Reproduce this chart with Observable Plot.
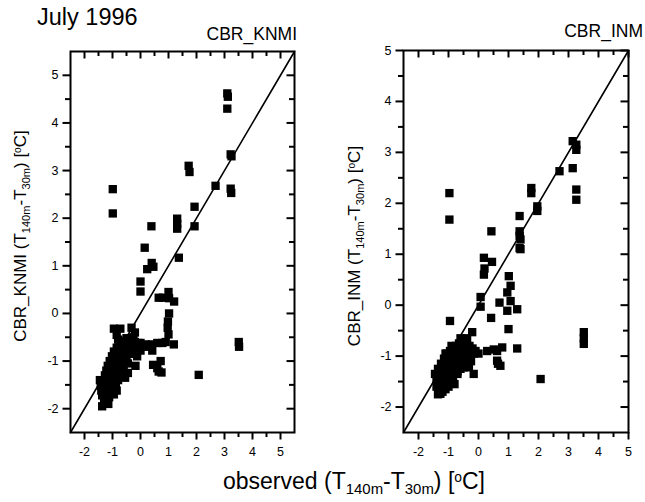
<!DOCTYPE html>
<html><head><meta charset="utf-8">
<script src="https://cdn.jsdelivr.net/npm/d3@7"></script>
<script src="https://cdn.jsdelivr.net/npm/@observablehq/plot@0.6"></script>
<style>
html,body{margin:0;padding:0;background:#fff;}
#wrap{position:relative;width:645px;height:502px;font-family:"Liberation Sans",Arial,sans-serif;color:#000;}
.t{position:absolute;line-height:1;white-space:nowrap;}
.sb{position:relative;top:0.35em;font-size:0.65em;}
.sp{position:relative;top:-0.5em;font-size:0.6em;}
.rot{transform:translate(-50%,-50%) rotate(-90deg);}
svg{position:absolute;overflow:visible;}
</style></head>
<body><div id="wrap">
<div class="t" style="left:37px;top:6px;font-size:23.5px;">July 1996</div>
<div class="t" style="right:348px;top:26px;font-size:17.5px;">CBR_KNMI</div>
<div class="t" style="right:2px;top:23px;font-size:17.5px;">CBR_INM</div>
<div class="t rot" style="left:20px;top:236px;font-size:17px;">CBR_KNMI (T<span class="sb">140m</span>-T<span class="sb">30m</span>) [<span class="sp">o</span>C]</div>
<div class="t rot" style="left:354px;top:246px;font-size:17px;">CBR_INM (T<span class="sb">140m</span>-T<span class="sb">30m</span>) [<span class="sp">o</span>C]</div>
<div class="t" style="left:354px;top:470px;font-size:23px;transform:translateX(-50%);">observed (T<span class="sb">140m</span>-T<span class="sb">30m</span>) [<span class="sp">o</span>C]</div>
</div>
<script>
// ---- data (observed vs modelled T140m - T30m, July 1996) ----
const knmiObs = [3.10,3.12,3.10,3.22,3.25,3.22,3.24,2.68,1.72,1.75,1.93,1.93,1.31,1.31,1.31,-0.99,-0.99,0.39,0.15,0.24,0.40,0.46,1.37,0.00,0.00,0.65,0.80,1.00,1.02,1.20,1.02,0.98,0.97,1.00,1.19,3.51,3.52,2.08,0.45,0.60,0.72,0.75,0.65,0.18,0.40,0.60,0.78,0.90,0.00,-0.20,0.42,-0.18,-0.95,-0.72,-0.32,-0.20,
 -1.45,-1.42,-1.40,-1.37,-1.37,-1.32,-1.30,-1.27,-1.25,-1.22,-1.20,-1.17,-1.15,-1.12,-1.10,-1.07,-1.05,-1.02,-1.00,-1.00,-0.95,-0.95,-0.92,-0.90,-0.88,-0.85,-0.85,-0.80,-0.80,-0.75,-0.75,-0.70,-0.70,-0.65,-0.65,-0.60,-0.60,-0.55,-0.50,-0.50,-0.45,-0.40,-0.35,-0.30,-0.25,-0.20,-0.12,-0.08,0.00,0.25,-0.85,-0.80,
 -1.30,-1.20,-1.10,-1.00,-0.90,-0.80,-0.70,-0.60,-0.50,-1.15,-1.25,-0.40,-0.85,-0.55,-0.45];
const knmiMod = [4.62,4.55,4.30,3.34,3.30,2.62,2.53,2.68,3.10,2.97,2.24,1.83,1.99,1.88,1.78,2.61,2.10,1.83,1.38,0.93,1.06,0.98,1.17,0.67,0.46,0.33,0.33,0.45,0.32,0.25,0.00,-0.17,-0.30,-0.44,-0.65,-0.60,-0.70,-1.29,-1.08,-1.15,-1.00,-1.24,-1.22,-0.65,-0.65,-0.62,-0.62,-0.60,-0.62,-0.60,-0.78,-1.10,-0.32,-0.32,-0.30,-0.40,
 -1.40,-1.52,-1.62,-1.72,-1.95,-1.45,-1.82,-1.30,-1.55,-1.20,-1.66,-1.10,-1.40,-1.76,-1.00,-1.28,-1.55,-0.90,-1.15,-1.45,-1.70,-0.80,-1.05,-1.30,-1.55,-0.72,-0.95,-1.20,-1.40,-0.66,-0.88,-1.10,-1.30,-0.58,-0.82,-1.00,-1.20,-0.70,-0.90,-0.52,-1.05,-0.75,-0.58,-0.85,-0.50,-0.72,-0.90,-0.62,-0.78,-0.70,-0.45,-0.55,
 -1.60,-1.45,-1.30,-1.30,-1.15,-1.05,-0.80,-0.80,-0.75,-1.90,-1.85,-0.60,-1.62,-1.35,-1.25];
const inmObs = [-0.97,-0.97,0.43,1.37,1.37,1.37,1.37,1.76,1.76,1.96,1.96,2.70,3.14,3.26,3.26,3.14,3.26,3.26,1.40,1.40,0.18,0.45,0.20,0.18,0.07,0.07,0.42,1.01,1.07,0.96,1.07,0.96,0.70,1.29,1.00,1.29,0.79,0.51,0.29,0.00,-0.30,0.62,0.73,0.65,2.07,3.51,3.51,3.51,-0.95,-0.21,-0.38,-0.60,-0.16,-0.49,-0.32,-1.27,-1.33,
 -1.45,-1.40,-1.40,-1.35,-1.35,-1.30,-1.30,-1.25,-1.25,-1.20,-1.20,-1.15,-1.15,-1.10,-1.10,-1.05,-1.05,-1.00,-1.00,-0.95,-0.95,-0.90,-0.90,-0.85,-0.85,-0.80,-0.80,-0.75,-0.75,-0.70,-0.70,-0.65,-0.60,-0.60,-0.55,-0.50,-0.50,-0.45,-0.40,-0.35,-0.30,-0.25,-0.15,
 -1.35,-1.20,-1.00,-0.85,-0.70,-0.55,-0.40,-0.30,-0.20,-0.10,-1.10,-0.90,0.62];
const inmMod = [2.20,1.68,1.45,1.75,1.45,1.36,1.12,2.30,2.20,1.94,1.85,2.63,3.22,3.15,3.05,2.69,2.27,2.07,1.29,1.10,0.93,0.85,0.72,0.60,0.16,-0.03,-0.25,0.57,0.38,0.25,0.08,-0.11,0.05,-0.08,-0.47,-0.85,-0.83,-0.87,-0.90,-0.95,-0.98,-1.09,-1.19,-1.15,-1.45,-0.53,-0.65,-0.76,-0.31,-0.53,-0.65,-0.65,-1.35,-1.22,-1.22,-1.74,-1.74,
 -1.35,-1.45,-1.60,-1.25,-1.55,-1.70,-1.40,-1.15,-1.50,-1.30,-1.60,-1.05,-1.40,-1.20,-1.65,-0.95,-1.35,-1.10,-1.50,-0.90,-1.25,-1.05,-1.40,-0.85,-1.20,-1.00,-1.55,-0.80,-1.10,-1.30,-0.95,-0.75,-1.05,-1.25,-0.90,-1.00,-0.75,-1.15,-0.85,-1.00,-0.80,-1.10,-0.95,
 -1.75,-1.70,-1.60,-1.45,-1.35,-1.20,-1.05,-0.95,-0.85,-0.90,-0.95,-0.80,-0.90];
const majorTicks = [-2,-1,0,1,2,3,4,5];
const minorTicks = [-1.5,-0.5,0.5,1.5,2.5,3.5,4.5,5.5];
const knmiDomain = [-2.5,5.5];
const inmDomain = [-2.5,5];

function panel(obs, mod, domain, w, h, m) {
  const pts = obs.map((x,i)=>({x, y: mod[i]}));
  const minor = minorTicks.filter(v => v < domain[1]);
  const iw = w - m[0] - m[1], ih = h - m[2] - m[3];
  const fmt = d => `${d}`;
  const big = 7.5, small = 5;
  const tk = {stroke: "#000", strokeWidth: 2};
  return Plot.plot({
    width: w, height: h,
    marginLeft: m[0], marginRight: m[1], marginTop: m[2], marginBottom: m[3],
    x: {domain}, y: {domain},
    style: {fontFamily: '"Liberation Sans",Arial,sans-serif', fontSize: "12.5px", color: "#000", background: "transparent", overflow: "visible"},
    marks: [
      // tick labels
      Plot.axisX(majorTicks, {anchor: "bottom", tickSize: 0, tickPadding: 15, tickFormat: fmt, label: null}),
      Plot.axisY(majorTicks, {anchor: "left", tickSize: 0, tickPadding: 12, tickFormat: fmt, label: null}),
      // outward ticks on bottom / left
      Plot.tickX(majorTicks, {x: d => d, insetTop: ih, insetBottom: -big, ...tk}),
      Plot.tickX(minor, {x: d => d, insetTop: ih, insetBottom: -small, ...tk}),
      Plot.tickY(majorTicks, {y: d => d, insetRight: iw, insetLeft: -big, ...tk}),
      Plot.tickY(minor, {y: d => d, insetRight: iw, insetLeft: -small, ...tk}),
      // inward mirror ticks on top / right
      Plot.tickX(majorTicks, {x: d => d, insetBottom: ih - big, ...tk}),
      Plot.tickX(minor, {x: d => d, insetBottom: ih - small, ...tk}),
      Plot.tickY(majorTicks, {y: d => d, insetLeft: iw - big, ...tk}),
      Plot.tickY(minor, {y: d => d, insetLeft: iw - small, ...tk}),
      Plot.line(domain, {x: d => d, y: d => d, stroke: "#000", strokeWidth: 1.6}),
      Plot.dot(pts, {x: "x", y: "y", symbol: "square", r: 4.7, fill: "#000", stroke: "none"}),
      Plot.frame({stroke: "#000", strokeWidth: 2})
    ]
  });
}

const wrap = document.getElementById("wrap");
const left = panel(knmiObs, knmiMod, knmiDomain, 310, 460, [70,16,51,28]);
left.style.left = "0px"; left.style.top = "0px";
wrap.appendChild(left);
const right = panel(inmObs, inmMod, inmDomain, 315, 460, [73,17,50,28]);
right.style.left = "330px"; right.style.top = "0px";
wrap.appendChild(right);
</script>
</body></html>
